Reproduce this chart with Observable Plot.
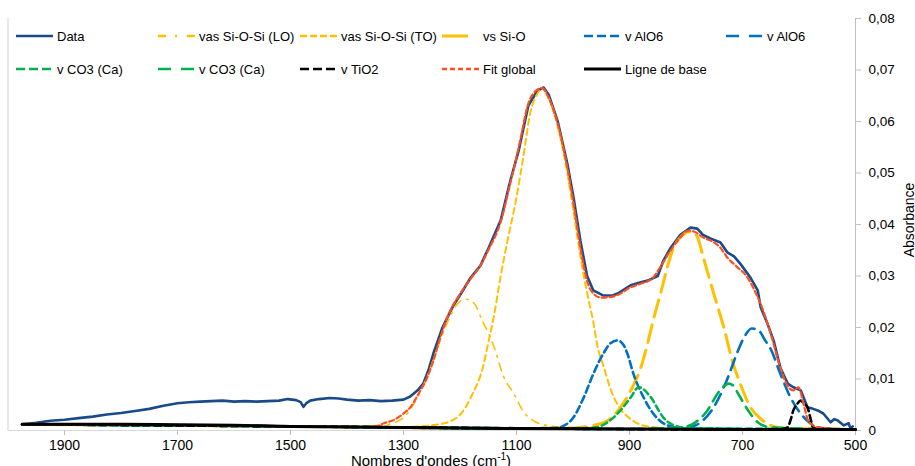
<!DOCTYPE html>
<html>
<head>
<meta charset="utf-8">
<script src="https://cdn.jsdelivr.net/npm/d3@7"></script>
<script src="https://cdn.jsdelivr.net/npm/@observablehq/plot@0.6"></script>
<style>
  body { margin: 0; background: #fff; font-family: "Liberation Sans", Arial, sans-serif; }
  #wrap { position: relative; width: 915px; height: 466px; overflow: hidden; }
  #legend { position: absolute; left: 0; top: 0; width: 915px; height: 90px; }
  .item { position: absolute; height: 16px; display: flex; align-items: center; font-size: 13px; color: #000; white-space: nowrap; }
  .item svg { display: block; margin-right: 4px; }
</style>
</head>
<body>
<div id="wrap"><div id="legend"></div></div>
<script>
// ---- Data (wavenumber cm-1, absorbance) ----
const xTicks = [1900, 1700, 1500, 1300, 1100, 900, 700, 500];
const yTicks = [0, 0.01, 0.02, 0.03, 0.04, 0.05, 0.06, 0.07, 0.08];

const dataPts = [
  [1975,0.0012],[1950,0.0015],[1925,0.0019],[1900,0.0021],[1875,0.0024],[1850,0.0027],
  [1825,0.0031],[1800,0.0034],[1775,0.0038],[1750,0.0042],[1725,0.0048],[1700,0.0053],
  [1680,0.0055],[1660,0.0056],[1640,0.0057],[1620,0.0058],[1600,0.0056],[1580,0.0057],
  [1560,0.0056],[1540,0.0057],[1520,0.0058],[1505,0.0061],[1490,0.0059],[1482,0.0055],
  [1477,0.0046],[1472,0.0053],[1465,0.0058],[1450,0.0061],[1430,0.0063],[1415,0.0062],
  [1400,0.0060],[1380,0.0058],[1360,0.0059],[1340,0.0057],[1320,0.0058],[1300,0.0060],
  [1288,0.0066],[1275,0.0078],[1265,0.0091],[1255,0.0120],[1247,0.0150],[1231,0.0200],
  [1213,0.0240],[1196,0.0270],[1181,0.0297],[1164,0.0320],[1150,0.0353],[1128,0.0408],
  [1111,0.0485],[1096,0.0544],[1079,0.0631],[1063,0.0660],[1052,0.0666],[1043,0.0652],
  [1027,0.0600],[1010,0.0518],[999,0.0452],[987,0.0369],[975,0.0300],[964,0.0272],
  [946,0.0262],[930,0.0262],[921,0.0266],[898,0.0282],[880,0.0288],[868,0.0291],
  [850,0.0300],[840,0.0330],[827,0.0355],[810,0.0380],[792,0.0394],[780,0.0392],
  [770,0.0380],[757,0.0373],[739,0.0365],[727,0.0346],[715,0.0338],[704,0.0324],
  [686,0.0297],[673,0.0272],[668,0.0240],[656,0.0208],[645,0.0175],[633,0.0122],
  [620,0.0091],[610,0.0084],[597,0.0078],[585,0.0045],[575,0.0042],[567,0.0039],
  [557,0.0033],[544,0.0016],[538,0.0022],[532,0.0020],[521,0.0010],[512,0.0014],
  [509,0.0004],[505,0.0008]
];

const loPts = [
  [1975,0.0012],[1500,0.0008],[1360,0.0007],[1340,0.0009],[1320,0.0014],[1300,0.0025],
  [1280,0.0055],[1260,0.0100],[1240,0.0160],[1220,0.0215],[1205,0.0245],[1190,0.0255],
  [1175,0.0247],[1160,0.0212],[1146,0.0180],[1140,0.0163],[1123,0.0105],[1105,0.0072],
  [1088,0.0037],[1067,0.0017],[1040,0.0009],[1000,0.0005],[900,0.0003],[500,0.0002]
];

const toPts = [
  [1975,0.0012],[1500,0.0008],[1300,0.0007],[1252,0.0010],[1228,0.0014],[1198,0.0033],
  [1181,0.0064],[1159,0.0125],[1150,0.0170],[1140,0.0222],[1128,0.0300],[1116,0.0368],
  [1101,0.0447],[1089,0.0524],[1075,0.0620],[1063,0.0654],[1054,0.0664],[1045,0.0650],
  [1027,0.0590],[1010,0.0500],[999,0.0425],[990,0.0360],[981,0.0300],[974,0.0262],
  [964,0.0210],[957,0.0165],[946,0.0125],[934,0.0082],[921,0.0050],[900,0.0024],
  [886,0.0014],[863,0.0007],[800,0.0003],[500,0.0002]
];

const siOPts = [
  [1975,0.0012],[1500,0.0008],[1100,0.0004],[1000,0.0005],[964,0.0010],[939,0.0019],
  [916,0.0045],[895,0.0084],[880,0.0122],[868,0.0169],[858,0.0214],[845,0.0266],
  [833,0.0317],[822,0.0355],[810,0.0375],[798,0.0385],[789,0.0386],[780,0.0376],
  [769,0.0335],[751,0.0266],[733,0.0200],[718,0.0135],[704,0.0091],[686,0.0045],
  [668,0.0023],[650,0.0010],[630,0.0005],[500,0.0002]
];

const alo6aPts = [
  [1975,0.0012],[1500,0.0008],[1100,0.0004],[1030,0.0005],[1004,0.0019],[981,0.0064],
  [964,0.0110],[946,0.0150],[933,0.0170],[921,0.0175],[910,0.0165],[904,0.0150],
  [893,0.0110],[875,0.0064],[858,0.0033],[833,0.0010],[800,0.0004],[500,0.0002]
];

const alo6bPts = [
  [1975,0.0012],[1500,0.0008],[900,0.0003],[800,0.0005],[774,0.0016],[751,0.0045],
  [733,0.0084],[724,0.0108],[708,0.0155],[695,0.0185],[684,0.0198],[672,0.0195],
  [660,0.0175],[650,0.0158],[633,0.0110],[615,0.0064],[597,0.0033],[580,0.0014],
  [560,0.0005],[500,0.0002]
];

const co3aPts = [
  [1975,0.0012],[1500,0.0008],[1000,0.0004],[960,0.0006],[939,0.0016],[916,0.0039],
  [898,0.0064],[884,0.0084],[876,0.0081],[868,0.0072],[858,0.0058],[850,0.0042],
  [840,0.0025],[825,0.0012],[800,0.0005],[500,0.0002]
];

const co3bPts = [
  [1975,0.0012],[1500,0.0008],[900,0.0003],[810,0.0006],[786,0.0014],[762,0.0039],
  [744,0.0072],[732,0.0087],[725,0.0091],[716,0.0087],[708,0.0072],[690,0.0039],
  [673,0.0016],[650,0.0006],[500,0.0002]
];

const tio2Pts = [
  [1975,0.0012],[1500,0.0008],[700,0.0002],[630,0.0003],[620,0.0006],[615,0.0020],
  [610,0.0039],[603,0.0052],[597,0.0058],[591,0.0052],[585,0.0045],[580,0.0025],
  [575,0.0006],[560,0.0003],[500,0.0002]
];

const fitPts = [
  [1975,0.0012],[1700,0.0011],[1500,0.0008],[1370,0.0007],[1346,0.0009],[1335,0.0014],
  [1318,0.0020],[1300,0.0033],[1288,0.0045],[1270,0.0078],[1260,0.0098],[1247,0.0136],
  [1235,0.0180],[1217,0.0233],[1200,0.0265],[1181,0.0295],[1164,0.0320],[1150,0.0350],
  [1128,0.0405],[1111,0.0480],[1096,0.0550],[1079,0.0635],[1063,0.0662],[1055,0.0665],
  [1045,0.0650],[1027,0.0595],[1010,0.0510],[999,0.0440],[987,0.0355],[975,0.0290],
  [964,0.0266],[950,0.0258],[935,0.0259],[921,0.0263],[898,0.0278],[880,0.0285],
  [860,0.0295],[845,0.0318],[830,0.0345],[810,0.0375],[796,0.0388],[785,0.0386],
  [770,0.0375],[750,0.0365],[740,0.0356],[727,0.0336],[710,0.0318],[691,0.0297],
  [680,0.0275],[668,0.0246],[650,0.0188],[633,0.0122],[618,0.0083],[610,0.0078],
  [601,0.0084],[592,0.0052],[584,0.0020],[575,0.0010],[567,0.0006],[500,0.0002]
];

const basePts = [
  [1975,0.0012],[1800,0.0012],[1700,0.0011],[1600,0.0010],[1500,0.0008],[1400,0.0007],
  [1300,0.0006],[1100,0.0004],[900,0.0003],[700,0.0002],[500,0.0002]
];

const labels = ["Data","vas Si-O-Si (LO)","vas Si-O-Si (TO)","vs Si-O","v AlO6","v AlO6",
                "v CO3 (Ca)","v CO3 (Ca)","v TiO2","Fit global","Ligne de base"];

// ---- Styles ----
const YEL = "#FFC000", BLU = "#0070C0", GRN = "#00B050", RED = "#FF4F1F", NAVY = "#1A4A8A";
const series = [
  {pts: dataPts,  stroke: NAVY,   w: 2.6, dash: null,        curve: "linear",     legDash: null},
  {pts: loPts,    stroke: YEL,    w: 1.6, dash: "8 6 2 6",   curve: "monotone-x", legDash: "8 9 2 10"},
  {pts: toPts,    stroke: YEL,    w: 2.0, dash: "6 4",       curve: "monotone-x", legDash: "7 3"},
  {pts: siOPts,   stroke: YEL,    w: 3.0, dash: "18 8",      curve: "monotone-x", legDash: "26 20"},
  {pts: alo6aPts, stroke: BLU,    w: 2.6, dash: "7 4",       curve: "monotone-x", legDash: "9 4"},
  {pts: alo6bPts, stroke: BLU,    w: 2.6, dash: "12 7",      curve: "monotone-x", legDash: "13 10"},
  {pts: co3aPts,  stroke: GRN,    w: 2.6, dash: "6 4",       curve: "monotone-x", legDash: "9 4"},
  {pts: co3bPts,  stroke: GRN,    w: 2.6, dash: "11 7",      curve: "monotone-x", legDash: "13 10"},
  {pts: tio2Pts,  stroke: "#000", w: 2.6, dash: "7 4",       curve: "monotone-x", legDash: "9 4"},
  {pts: fitPts,   stroke: RED,    w: 2.2, dash: "5 3",       curve: "monotone-x", legDash: "5 3"},
  {pts: basePts,  stroke: "#000", w: 3.0, dash: null,        curve: "monotone-x", legDash: null}
];

const fmtY = d => d === 0 ? "0" : d.toFixed(2).replace(".", ",");

const plot = Plot.plot({
  width: 915,
  height: 466,
  marginLeft: 7.5,
  marginRight: 60,
  marginTop: 18,
  marginBottom: 36,
  style: {fontFamily: "'Liberation Sans', Arial, sans-serif", background: "white", overflow: "visible"},
  x: {domain: [2000, 500], label: null},
  y: {domain: [0, 0.08], label: null},
  marks: [
    Plot.ruleY([0], {stroke: "#d9d9d9", strokeWidth: 1.2}),
    Plot.ruleX([2000], {stroke: "#d9d9d9", strokeWidth: 1.2}),
    Plot.ruleX([500], {stroke: "#bfbfbf", strokeWidth: 1}),
    Plot.axisX({ticks: xTicks, tickFormat: d => String(d), tickSize: 5, tickPadding: 5,
                stroke: "#bfbfbf", fill: "#000", fontSize: 14, label: null}),
    Plot.axisY({anchor: "right", ticks: yTicks, tickFormat: fmtY, tickSize: 5, tickPadding: 8,
                stroke: "#bfbfbf", fill: "#000", fontSize: 13.5, textAnchor: "start", label: null}),
    ...series.map(s => Plot.line(s.pts, {
      x: d => d[0], y: d => d[1], stroke: s.stroke, strokeWidth: s.w,
      strokeDasharray: s.dash, curve: s.curve, strokeLinejoin: "round"
    }))
  ]
});

const svg = d3.select(plot);
const xt = svg.append("text")
  .attr("x", 431).attr("y", 466).attr("text-anchor", "middle")
  .attr("font-size", 15).attr("fill", "#000");
xt.append("tspan").text("Nombres d'ondes (cm");
xt.append("tspan").attr("font-size", 10).attr("dy", -6).text("-1");
xt.append("tspan").attr("dy", 6).text(")");
svg.append("text")
  .attr("transform", "translate(914,220) rotate(-90)")
  .attr("text-anchor", "middle").attr("font-size", 14).attr("fill", "#000")
  .text("Absorbance");

const wrap = document.getElementById("wrap");
wrap.insertBefore(plot, wrap.firstChild);

// ---- Legend ----
const legend = document.getElementById("legend");
const colX = [16, 158, 300, 442, 584, 726];
const rowY = [36, 69];
series.forEach((s, i) => {
  const row = i < 6 ? 0 : 1;
  const col = i < 6 ? i : i - 6;
  const div = document.createElement("div");
  div.className = "item";
  div.style.left = colX[col] + "px";
  div.style.top = (rowY[row] - 8) + "px";
  const ns = "http://www.w3.org/2000/svg";
  const sw = document.createElementNS(ns, "svg");
  sw.setAttribute("width", 37); sw.setAttribute("height", 16);
  const ln = document.createElementNS(ns, "line");
  ln.setAttribute("x1", 0); ln.setAttribute("x2", 37);
  ln.setAttribute("y1", 8); ln.setAttribute("y2", 8);
  ln.setAttribute("stroke", s.stroke);
  ln.setAttribute("stroke-width", Math.max(s.w, 2.6));
  if (s.legDash) ln.setAttribute("stroke-dasharray", s.legDash);
  sw.appendChild(ln);
  div.appendChild(sw);
  const t = document.createElement("span");
  t.textContent = labels[i];
  div.appendChild(t);
  legend.appendChild(div);
});
</script>
</body>
</html>
